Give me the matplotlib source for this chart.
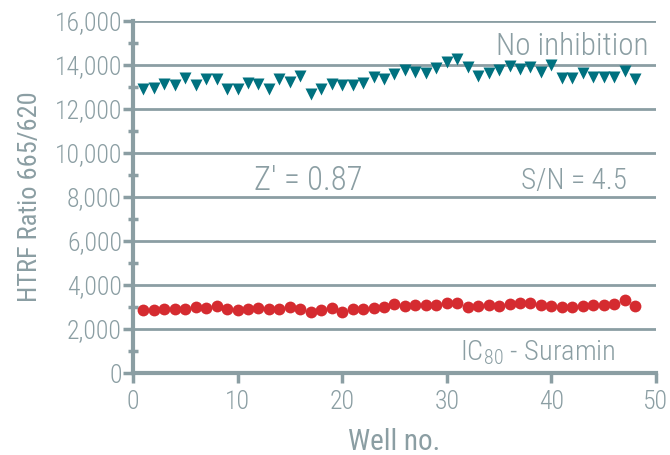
import numpy as np
import matplotlib
matplotlib.use("Agg")
import matplotlib.pyplot as plt
from matplotlib.ticker import MultipleLocator, FuncFormatter

# HTRF ratio per well, uninhibited control vs. IC80 suramin
wells = np.arange(1, 49)
no_inhibition = [12920, 12960, 13150, 13090, 13420, 13080, 13380, 13380,
                 12890, 12930, 13160, 13140, 12920, 13380, 13230, 13520,
                 12690, 12920, 13140, 13100, 13100, 13200, 13440, 13380,
                 13580, 13790, 13680, 13650, 13870, 14130, 14250, 13900,
                 13490, 13650, 13750, 13950, 13800, 13900, 13680, 13980,
                 13400, 13400, 13630, 13430, 13430, 13430, 13720, 13370]
suramin_ic80 = [2864, 2864, 2894, 2909, 2924, 3000, 2970, 3060,
                2894, 2864, 2909, 2939, 2894, 2894, 2985, 2909,
                2788, 2879, 2970, 2758, 2894, 2909, 2970, 2985,
                3150, 3045, 3090, 3090, 3076, 3167, 3167, 3015,
                3045, 3076, 3045, 3136, 3167, 3167, 3090, 3045,
                3015, 2985, 3045, 3076, 3090, 3136, 3318, 3045]

grey = "#8b9ea3"
teal = "#00717f"
red = "#d52b30"

plt.rcParams['font.family'] = ['Roboto Condensed', 'Liberation Sans Narrow', 'Roboto']
plt.rcParams['font.weight'] = 'light'
plt.rcParams['mathtext.default'] = 'regular'

fig = plt.figure(figsize=(6.7, 4.55), dpi=100)
ax = fig.add_axes([0.1985, 0.180, 0.7805, 0.774])

ax.set_xlim(0, 50)
ax.set_ylim(0, 16000)

for y in range(2000, 16001, 2000):
    ax.axhline(y, color=grey, lw=2.0, zorder=1)

ax.plot(wells, no_inhibition, "v", color=teal, ms=8.5, mec="none", zorder=3)
ax.plot(wells, suramin_ic80, "o", color=red, ms=8.5, mec="none", zorder=3)

for side in ["top", "right"]:
    ax.spines[side].set_visible(False)
for side in ["left", "bottom"]:
    ax.spines[side].set_color(grey)
    ax.spines[side].set_linewidth(3)

ax.xaxis.set_major_locator(MultipleLocator(10))
ax.yaxis.set_major_locator(MultipleLocator(2000))
ax.yaxis.set_minor_locator(MultipleLocator(1000))
ax.yaxis.set_major_formatter(FuncFormatter(lambda v, p: f"{int(v):,}"))

ax.tick_params(axis="both", which="major", colors=grey, labelcolor=grey,
               labelsize=18.5, width=2.5, length=7, direction="out")
ax.tick_params(axis="y", which="minor", colors=grey, width=2.5, length=7,
               direction="inout")
ax.tick_params(axis="x", which="major", pad=5)
ax.tick_params(axis="y", which="major", pad=1)

ax.set_xlabel("Well no.", color=grey, fontsize=21, labelpad=10)
ax.set_ylabel("HTRF Ratio 665/620", color=grey, fontsize=19, labelpad=9)

ax.text(49.3, 14450, "No inhibition", color=grey, fontsize=22.5,
        ha="right", va="baseline")
ax.text(16.8, 8300, "Z' = 0.87", color=grey, fontsize=23.5,
        ha="center", va="baseline")
ax.text(47.2, 8350, "S/N = 4.5", color=grey, fontsize=21,
        ha="right", va="baseline")
ax.text(46.2, 550, "IC$_{80}$ - Suramin", color=grey, fontsize=20.5,
        ha="right", va="baseline")

fig.savefig("out.png", dpi=100)
